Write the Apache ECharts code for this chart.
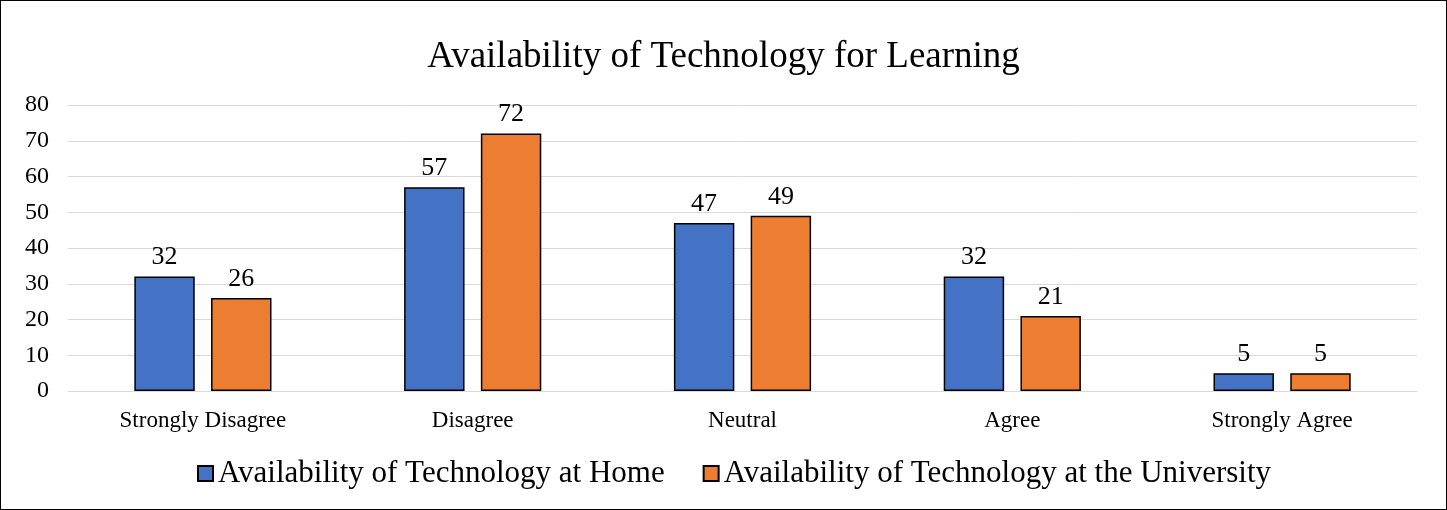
<!DOCTYPE html>
<html><head><meta charset="utf-8">
<script src="https://cdn.jsdelivr.net/npm/echarts@6/dist/echarts.min.js"></script>
<style>
html,body{margin:0;padding:0;background:#fff;}
#c{position:absolute;left:0;top:0;width:1445px;height:508px;border:1px solid #000;}
</style></head><body>
<div id="c"></div>
<script>
const categories = ['Strongly Disagree','Disagree','Neutral','Agree','Strongly Agree'];
const homeValues = [32,57,47,32,5];
const uniValues = [26,72,49,21,5];
const seriesNames = ['Availability of Technology at Home','Availability of Technology at the University'];
const yTicks = {min:0,max:80,interval:10};

const chart = echarts.init(document.getElementById('c'));
const font = "'Liberation Serif','Times New Roman',serif";
const lbl = {show:true,position:'top',color:'#000',fontFamily:font,fontSize:26,distance:6};
chart.setOption({
  animation:false,
  title:{text:'Availability of Technology for Learning',left:'center',top:33,
    textStyle:{fontFamily:font,fontSize:37,fontWeight:'normal',color:'#000'}},
  legend:{bottom:15,left:191,itemWidth:15,itemHeight:15,itemGap:38,icon:'rect',
    textStyle:{fontFamily:font,fontSize:31,color:'#000',padding:[0,0,0,0]},
    data:seriesNames},
  grid:{left:67,right:29,top:104,bottom:118},
  xAxis:{type:'category',data:categories,
    axisLine:{lineStyle:{color:'#d9d9d9',width:1}},axisTick:{show:false},
    axisLabel:{fontFamily:font,fontSize:23,color:'#000',margin:18}},
  yAxis:{type:'value',min:yTicks.min,max:yTicks.max,interval:yTicks.interval,
    splitLine:{lineStyle:{color:'#d9d9d9',width:1}},
    axisLabel:{fontFamily:font,fontSize:24,color:'#000',margin:19}},
  series:[
    {name:seriesNames[0],type:'bar',data:homeValues,barWidth:'22.4%',barGap:'27%',
     itemStyle:{color:'#4472c4',borderColor:'#000',borderWidth:1.5},label:lbl},
    {name:seriesNames[1],type:'bar',data:uniValues,barWidth:'22.4%',
     itemStyle:{color:'#ed7d31',borderColor:'#000',borderWidth:1.5},label:lbl}
  ]
});
</script>
</body></html>
